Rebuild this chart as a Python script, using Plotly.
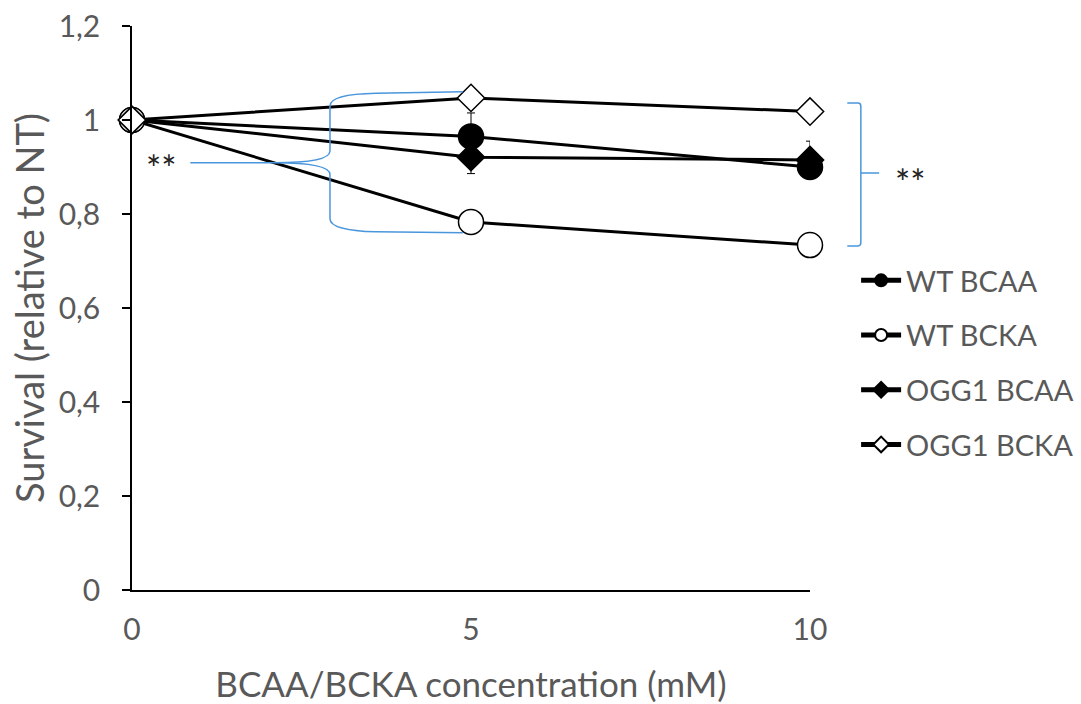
import plotly.graph_objects as go

# ---- data ----
conc = [0, 5, 10]
series_names = ["WT BCAA", "WT BCKA", "OGG1 BCAA", "OGG1 BCKA"]
wt_bcaa = [1.0, 0.965, 0.90]
wt_bcka = [1.0, 0.783, 0.734]
ogg1_bcaa = [1.0, 0.921, 0.915]
ogg1_bcka = [1.0, 1.047, 1.018]
wt_bcaa_err = [0, 0.05, 0.02]
wt_bcka_err = [0, 0.01, 0.01]
ogg1_bcaa_err = [0, 0.035, 0.04]
ogg1_bcka_err = [0, 0.01, 0.01]
y_ticks = [0, 0.2, 0.4, 0.6, 0.8, 1.0, 1.2]
y_ticktext = ["0", "0,2", "0,4", "0,6", "0,8", "1", "1,2"]
x_ticks = [0, 5, 10]
x_ticktext = ["0", "5", "10"]

YMAX = 1.2
XMAX = 10

FONT = "Lato"
GRAY = "#595959"
BLUE = "#4A96DC"

styles = [
    dict(symbol="circle", size=25, color="black"),
    dict(symbol="circle", size=25, color="white"),
    dict(symbol="diamond", size=21, color="black"),
    dict(symbol="diamond", size=21, color="white"),
]
values = [wt_bcaa, wt_bcka, ogg1_bcaa, ogg1_bcka]
errs = [wt_bcaa_err, wt_bcka_err, ogg1_bcaa_err, ogg1_bcka_err]

fig = go.Figure()
for name, vals, err, st in zip(series_names, values, errs, styles):
    fig.add_trace(go.Scatter(
        x=conc, y=vals, name=name, mode="lines+markers", legendgroup=name,
        line=dict(color="black", width=3),
        marker=dict(symbol=st["symbol"], size=st["size"], color=st["color"],
                    line=dict(color="black", width=1.5)),
        error_y=dict(type="data", array=err, color="black", thickness=1, width=4),
        cliponaxis=False,
    ))

# helpers: data -> paper
def px_(x):
    return x / XMAX
def py_(y):
    return y / YMAX

shapes = []
# left brace (data coords)
lt_tip, lt_vx, lt_end = 0.86, 2.92, 4.88
lt_mid, lt_top, lt_bot = 0.909, 1.06, 0.76
path_left = (
    f"M {lt_tip},{lt_mid} L 2.1,{lt_mid} "
    f"Q {lt_vx},{lt_mid} {lt_vx},{lt_mid + 0.025} "
    f"L {lt_vx},{lt_top - 0.03} "
    f"Q {lt_vx},{lt_top - 0.005} 3.6,{lt_top - 0.003} L {lt_end},{lt_top} "
    f"M 2.1,{lt_mid} "
    f"Q {lt_vx},{lt_mid} {lt_vx},{lt_mid - 0.025} "
    f"L {lt_vx},{lt_bot + 0.03} "
    f"Q {lt_vx},{lt_bot + 0.005} 3.6,{lt_bot + 0.002} L {lt_end},{lt_bot}"
)
shapes.append(dict(type="path", path=path_left, xref="x", yref="y",
                   line=dict(color=BLUE, width=1.5)))

# right brace (paper coords)
rb_end, rb_vx, rb_tick = 10.55, 10.75, 11.02
rb_top, rb_mid, rb_bot = 1.036, 0.887, 0.732
path_right = (
    f"M {px_(rb_end)},{py_(rb_top)} L {px_(rb_vx) - 0.004},{py_(rb_top)} "
    f"Q {px_(rb_vx)},{py_(rb_top)} {px_(rb_vx)},{py_(rb_top) - 0.006} "
    f"L {px_(rb_vx)},{py_(rb_bot) + 0.006} "
    f"Q {px_(rb_vx)},{py_(rb_bot)} {px_(rb_vx) - 0.004},{py_(rb_bot)} L {px_(rb_end)},{py_(rb_bot)} "
    f"M {px_(rb_vx)},{py_(rb_mid)} L {px_(rb_tick)},{py_(rb_mid)}"
)
shapes.append(dict(type="path", path=path_right, xref="paper", yref="paper",
                   line=dict(color=BLUE, width=1.5)))

annotations = [
    dict(x=0.43, y=0.909, xref="x", yref="y", text="**", showarrow=False,
         xanchor="center", yanchor="middle",
         font=dict(family=FONT, size=36, color="#222222"), yshift=-5),
    dict(x=px_(11.48), y=py_(0.887), xref="paper", yref="paper", text="**",
         showarrow=False, xanchor="center", yanchor="middle",
         font=dict(family=FONT, size=36, color="#222222"), yshift=-9),
]

fig.update_layout(
    width=1081, height=704,
    margin=dict(l=132, r=271, t=26, b=114, autoexpand=False),
    paper_bgcolor="white", plot_bgcolor="white",
    font=dict(family=FONT, color=GRAY, size=28),
    separators=",.",
    showlegend=True,
    legend=dict(x=1.068, y=0.594, xanchor="left", yanchor="top",
                font=dict(family=FONT, size=29, color=GRAY),
                itemwidth=40, tracegroupgap=14, bgcolor="rgba(0,0,0,0)",
                itemsizing="constant"),
    shapes=shapes,
    annotations=annotations,
    xaxis=dict(range=[0, XMAX], tickvals=x_ticks, ticktext=x_ticktext,
               showgrid=False, zeroline=False, showline=True, automargin=False,
               linecolor="black", linewidth=1.5, ticks="",
               ticklabelstandoff=12,
               tickfont=dict(family=FONT, size=30, color=GRAY),
               title=dict(text="BCAA/BCKA concentration (mM)", standoff=30,
                          font=dict(family=FONT, size=35, color=GRAY))),
    yaxis=dict(range=[0, YMAX], tickvals=y_ticks, ticktext=y_ticktext,
               showgrid=False, zeroline=False, showline=True, automargin=False,
               linecolor="black", linewidth=1.5, ticks="outside",
               ticklen=8, tickcolor="black", tickwidth=1.5,
               ticklabelstandoff=16,
               tickfont=dict(family=FONT, size=30, color=GRAY),
               title=dict(text="Survival (relative to NT)", standoff=2,
                          font=dict(family=FONT, size=38, color=GRAY))),
)

fig.write_html("out.html")
